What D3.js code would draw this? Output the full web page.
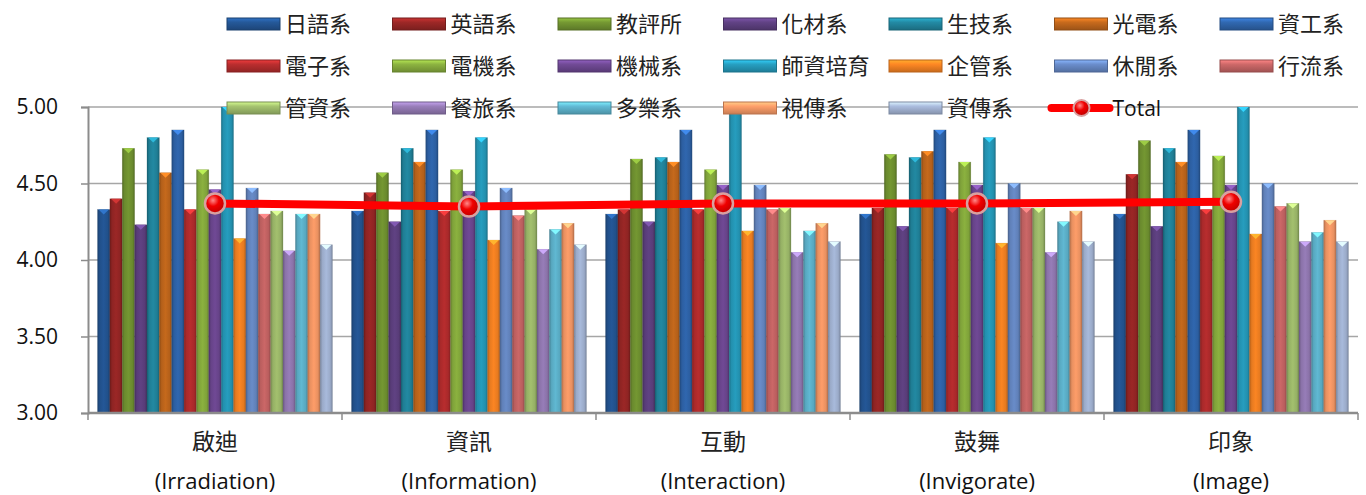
<!DOCTYPE html>
<html><head><meta charset="utf-8">
<script src="https://cdn.jsdelivr.net/npm/d3@7"></script>
<style>
html,body{margin:0;padding:0;background:#fff;}
svg{display:block;}
</style></head>
<body>
<svg id="chart" width="1366" height="495"></svg>
<script>
// ---------- data ----------
const categoriesZh = ["啟迪","資訊","互動","鼓舞","印象"];
const categoriesEn = ["(Irradiation)","(Information)","(Interaction)","(Invigorate)","(Image)"];
const seriesNames = ["日語系","英語系","教評所","化材系","生技系","光電系","資工系",
  "電子系","電機系","機械系","師資培育","企管系","休閒系","行流系",
  "管資系","餐旅系","多樂系","視傳系","資傳系"];
const seriesColors = ["#21508A","#8E2423","#6A8A2E","#583C78","#1F7D94","#B4601A","#2C5EA0",
  "#A8292A","#7FA23A","#664388","#2390AE","#E67A20","#6080B8","#BA5E5E",
  "#95B065","#8A72A8","#58A8C0","#E89060","#9AAAC8"];
const irradiation = [4.33,4.40,4.73,4.23,4.80,4.57,4.85,4.33,4.59,4.46,5.00,4.14,4.47,4.30,4.32,4.06,4.30,4.30,4.10];
const information = [4.32,4.44,4.57,4.25,4.73,4.64,4.85,4.32,4.59,4.45,4.80,4.13,4.47,4.29,4.33,4.07,4.20,4.24,4.10];
const interaction = [4.30,4.33,4.66,4.25,4.67,4.64,4.85,4.33,4.59,4.49,5.00,4.19,4.49,4.33,4.34,4.05,4.19,4.24,4.12];
const invigorate  = [4.30,4.34,4.69,4.22,4.67,4.71,4.85,4.34,4.64,4.49,4.80,4.11,4.50,4.34,4.34,4.05,4.25,4.32,4.12];
const image       = [4.30,4.56,4.78,4.22,4.73,4.64,4.85,4.33,4.68,4.49,5.00,4.17,4.50,4.35,4.37,4.12,4.18,4.26,4.12];
const total = [4.37,4.35,4.37,4.37,4.38];
const yTicks = [3.00,3.50,4.00,4.50,5.00];

const groupValues = [irradiation, information, interaction, invigorate, image];

// ---------- setup ----------
const svg = d3.select("#chart");
const plotL = 88, plotR = 1358, plotT = 107, plotB = 413;
const cjk = "'Noto Sans CJK TC','Noto Sans CJK SC',sans-serif";
const latin = "'Open Sans','Liberation Sans',sans-serif";

const x0 = d3.scaleBand().domain(d3.range(categoriesZh.length)).range([plotL,plotR])
  .paddingInner(0.075).paddingOuter(0.0375);
const x1 = d3.scaleBand().domain(d3.range(seriesNames.length)).range([0,x0.bandwidth()]).padding(0);
const y = d3.scaleLinear().domain([3,5]).range([plotB,plotT]);

// gradients
const defs = svg.append("defs");
seriesColors.forEach((c,i)=>{
  const col = d3.color(c);
  const g = defs.append("linearGradient").attr("id","bar"+i).attr("x1","0").attr("x2","1").attr("y1","0").attr("y2","0");
  g.append("stop").attr("offset","0%").attr("stop-color",col.darker(0.7));
  g.append("stop").attr("offset","18%").attr("stop-color",col);
  g.append("stop").attr("offset","50%").attr("stop-color",col.brighter(0.25));
  g.append("stop").attr("offset","82%").attr("stop-color",col);
  g.append("stop").attr("offset","100%").attr("stop-color",col.darker(0.7));
  const lg = defs.append("linearGradient").attr("id","leg"+i).attr("x1","0").attr("x2","0").attr("y1","0").attr("y2","1");
  lg.append("stop").attr("offset","0%").attr("stop-color",col.brighter(1.0));
  lg.append("stop").attr("offset","35%").attr("stop-color",col.brighter(0.3));
  lg.append("stop").attr("offset","100%").attr("stop-color",col.darker(0.4));
});
const rg = defs.append("radialGradient").attr("id","mark").attr("cx","40%").attr("cy","35%").attr("r","65%");
rg.append("stop").attr("offset","0%").attr("stop-color","#ff8a8a");
rg.append("stop").attr("offset","45%").attr("stop-color","#f00000");
rg.append("stop").attr("offset","100%").attr("stop-color","#c00000");

// gridlines
svg.append("g").selectAll("line").data(yTicks.filter(t=>t>3)).join("line")
  .attr("x1",plotL).attr("x2",plotR).attr("y1",d=>y(d)).attr("y2",d=>y(d))
  .attr("stroke","#a6a6a6").attr("stroke-width",1.5);

// y axis
const yAxis = svg.append("g").attr("transform",`translate(${plotL},0)`)
  .call(d3.axisLeft(y).tickValues(yTicks).tickFormat(d3.format(".2f")).tickSize(7).tickPadding(23));
yAxis.select(".domain").attr("stroke","#8c8c8c").attr("stroke-width",2);
yAxis.selectAll(".tick line").attr("stroke","#8c8c8c").attr("stroke-width",1.5);
yAxis.selectAll("text").attr("font-family",latin).attr("font-size",21).attr("fill","#111");

// bars
const groups = svg.append("g").selectAll("g").data(groupValues).join("g")
  .attr("transform",(d,i)=>`translate(${x0(i)},0)`);
groups.each(function(vals){
  const g = d3.select(this);
  const w = x1.bandwidth();
  g.selectAll("rect.bar").data(vals).join("rect").attr("class","bar")
    .attr("x",(d,i)=>x1(i)).attr("width",w)
    .attr("y",d=>y(d)).attr("height",d=>y(3)-y(d))
    .attr("fill",(d,i)=>`url(#bar${i})`)
    .attr("stroke",(d,i)=>d3.color(seriesColors[i]).darker(0.9)).attr("stroke-opacity",0.35).attr("stroke-width",0.6);
  g.selectAll("path.cap").data(vals).join("path").attr("class","cap")
    .attr("d",(d,i)=>{const xx=x1(i), yy=y(d); return `M${xx+1},${yy}L${xx+w-1},${yy}L${xx+w/2},${yy+5}Z`;})
    .attr("fill",(d,i)=>d3.color(seriesColors[i]).brighter(1.1));
});

// x axis
const xAxis = svg.append("g").attr("transform",`translate(0,${plotB})`);
xAxis.append("line").attr("x1",plotL).attr("x2",plotR).attr("stroke","#8c8c8c").attr("stroke-width",2.5);
const bounds = d3.range(categoriesZh.length+1).map(i=> i<categoriesZh.length ? x0(i)-x0.step()*x0.paddingInner()/2 : x0(i-1)+x0.bandwidth()+x0.step()*x0.paddingInner()/2);
xAxis.selectAll("line.t").data(bounds).join("line").attr("class","t")
  .attr("x1",d=>d).attr("x2",d=>d).attr("y1",0).attr("y2",7).attr("stroke","#8c8c8c").attr("stroke-width",1.5);
xAxis.selectAll("text.zh").data(categoriesZh).join("text").attr("class","zh")
  .attr("x",(d,i)=>x0(i)+x0.bandwidth()/2).attr("y",37).attr("text-anchor","middle")
  .attr("font-family",cjk).attr("font-size",23).attr("fill","#222").text(d=>d);
xAxis.selectAll("text.en").data(categoriesEn).join("text").attr("class","en")
  .attr("x",(d,i)=>x0(i)+x0.bandwidth()/2).attr("y",76).attr("text-anchor","middle")
  .attr("font-family",latin).attr("font-size",22).attr("fill","#111").text(d=>d);

// total line
const cx = i=>x0(i)+x0.bandwidth()/2;
svg.append("path").datum(total)
  .attr("d",d3.line().x((d,i)=>cx(i)).y(d=>y(d)))
  .attr("fill","none").attr("stroke","#ff0000").attr("stroke-width",8);
svg.append("g").selectAll("circle").data(total).join("circle")
  .attr("cx",(d,i)=>cx(i)).attr("cy",d=>y(d)).attr("r",10)
  .attr("fill","url(#mark)").attr("stroke","#d9a0a0").attr("stroke-width",2.5);

// legend
const legX = i=>227 + (i%7)*165.5;
const legY = i=>24 + Math.floor(i/7)*42;
const leg = svg.append("g");
const items = leg.selectAll("g").data(seriesNames).join("g")
  .attr("transform",(d,i)=>`translate(${legX(i)},${legY(i)})`);
items.append("rect").attr("x",0).attr("y",-6).attr("width",53).attr("height",12)
  .attr("fill",(d,i)=>`url(#leg${i})`)
  .attr("stroke",(d,i)=>d3.color(seriesColors[i]).darker(0.6)).attr("stroke-width",1);
items.append("text").attr("x",58).attr("y",0).attr("dy","0.36em")
  .attr("font-family",cjk).attr("font-size",22).attr("fill","#222").text(d=>d);
const ti = seriesNames.length;
const tl = leg.append("g").attr("transform",`translate(${legX(ti)},${legY(ti)})`);
tl.append("line").attr("x1",-3).attr("x2",55).attr("stroke","#ff0000").attr("stroke-width",8).attr("stroke-linecap","round");
tl.append("circle").attr("cx",27).attr("r",8).attr("fill","url(#mark)").attr("stroke","#d9a0a0").attr("stroke-width",2);
tl.append("text").attr("x",58).attr("y",0).attr("dy","0.36em")
  .attr("font-family",latin).attr("font-size",21).attr("fill","#111").text("Total");
</script>
</body></html>
